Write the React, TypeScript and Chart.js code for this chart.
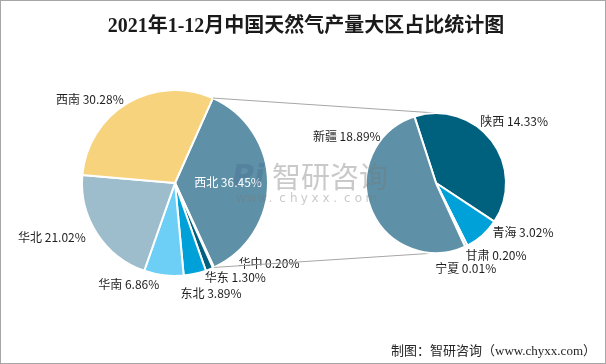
import React, { useEffect, useRef } from "react";
import { Chart, registerables } from "chart.js";

Chart.register(...registerables);

const TITLE = "2021年1-12月中国天然气产量大区占比统计图";
const SOURCE = "制图：智研咨询（www.chyxx.com）";

// primary pie (大区)
const mainCategories = ["西北", "华中", "华东", "东北", "华南", "华北", "西南"];
const mainValues = [36.45, 0.2, 1.3, 3.89, 6.86, 21.02, 30.28];
const mainColors = ["#5E91A7", "#1B5873", "#00607F", "#00A0D8", "#6DCFF6", "#9DBDCC", "#F6D37C"];

// secondary pie (西北 breakdown)
const subCategories = ["陕西", "青海", "甘肃", "宁夏", "新疆"];
const subValues = [14.33, 3.02, 0.2, 0.01, 18.89];
const subColors = ["#00617F", "#00A0D8", "#2F7FA3", "#1B5873", "#5E91A7"];

// label nudges (styling), relative to the computed outside anchor
const mainNudge: [number, number][] = [[0, 0], [20, -15], [-9, -3], [-17, 8], [-3, -3], [-1, -3], [2, 7]];
const subNudge: [number, number][] = [[-21, -12], [2, -12], [-6, -1], [-35, 11], [21, -76]];

const LABEL_FONT = "12px 'Noto Sans CJK SC', 'Noto Sans', sans-serif";
const W = 606;
const H = 364;

function fmt(v: number) {
  return v.toFixed(2) + "%";
}

function drawLabels(chart: any, cats: string[], vals: number[], nudges: [number, number][], insideIndex: number) {
  const ctx = chart.ctx;
  const meta = chart.getDatasetMeta(0);
  ctx.save();
  ctx.font = LABEL_FONT;
  ctx.textBaseline = "middle";
  meta.data.forEach((arc: any, i: number) => {
    const { x, y, startAngle, endAngle, outerRadius } = arc.getProps(["x", "y", "startAngle", "endAngle", "outerRadius"], true);
    const mid = (startAngle + endAngle) / 2;
    const text = cats[i] + " " + fmt(vals[i]);
    if (i === insideIndex) {
      ctx.fillStyle = "#FFFFFF";
      ctx.textAlign = "center";
      ctx.fillText(text, x + Math.cos(mid) * outerRadius * 0.57, y + Math.sin(mid) * outerRadius * 0.57);
      return;
    }
    const r = outerRadius + 12;
    const dx = Math.cos(mid);
    const ax = x + dx * r + nudges[i][0];
    const ay = y + Math.sin(mid) * r + nudges[i][1];
    ctx.fillStyle = "#1F1F1F";
    ctx.textAlign = dx < 0 ? "right" : "left";
    ctx.fillText(text, ax, ay);
  });
  ctx.restore();
}

export default function App() {
  const ref1 = useRef<HTMLCanvasElement>(null);
  const ref2 = useRef<HTMLCanvasElement>(null);

  useEffect(() => {
    if (!ref1.current || !ref2.current) return;

    const mainPlugin = {
      id: "mainDecor",
      afterDraw(chart: any) {
        const ctx = chart.ctx;
        drawLabels(chart, mainCategories, mainValues, mainNudge, 0);
        ctx.save();
        ctx.fillStyle = "#1A1A1A";
        ctx.textAlign = "center";
        ctx.textBaseline = "middle";
        ctx.font = "bold 20px 'Liberation Serif', 'Noto Sans CJK SC', serif";
        ctx.fillText(TITLE, W / 2 + 3, 27);
        ctx.font = "13px 'Liberation Serif', 'Noto Sans CJK SC', serif";
        ctx.textAlign = "right";
        ctx.fillStyle = "#262626";
        ctx.fillText(SOURCE, 596, 352);
        ctx.strokeStyle = "#A6A6A6";
        ctx.lineWidth = 1;
        ctx.strokeRect(0.5, 0.5, W - 1, H - 1);
        ctx.restore();
      },
    };

    const chart1 = new Chart(ref1.current, {
      type: "pie",
      data: {
        labels: mainCategories,
        datasets: [
          {
            data: mainValues,
            backgroundColor: mainColors,
            borderColor: "#FFFFFF",
            borderWidth: 2,
            hoverOffset: 0,
            offset: 0,
            radius: 93,
          } as any,
        ],
      },
      options: {
        responsive: false,
        animation: false,
        events: [],
        rotation: 24,
        layout: { padding: { left: 75, right: W - 175 - 100, top: 83, bottom: H - 183 - 100 } },
        plugins: { legend: { display: false }, tooltip: { enabled: false }, title: { display: false } },
      },
      plugins: [mainPlugin],
    });

    const subPlugin = {
      id: "subDecor",
      beforeDatasetsDraw(chart: any) {
        const ctx = chart.ctx;
        const a = chart1.getDatasetMeta(0).data[0] as any;
        const p = a.getProps(["x", "y", "startAngle", "endAngle", "outerRadius"], true);
        const b = chart.getDatasetMeta(0).data[0] as any;
        const q = b.getProps(["x", "y", "outerRadius"], true);
        ctx.save();
        ctx.strokeStyle = "#A6A6A6";
        ctx.lineWidth = 1;
        ctx.beginPath();
        ctx.moveTo(p.x + Math.cos(p.startAngle) * p.outerRadius, p.y + Math.sin(p.startAngle) * p.outerRadius);
        ctx.lineTo(q.x, q.y - q.outerRadius);
        ctx.moveTo(p.x + Math.cos(p.endAngle) * p.outerRadius, p.y + Math.sin(p.endAngle) * p.outerRadius);
        ctx.lineTo(q.x, q.y + q.outerRadius);
        ctx.stroke();
        ctx.restore();
      },
      afterDraw(chart: any) {
        drawLabels(chart, subCategories, subValues, subNudge, -1);
        const ctx = chart.ctx;
        ctx.save();
        // watermark
        ctx.textBaseline = "middle";
        ctx.textAlign = "left";
        ctx.fillStyle = "rgba(60,95,140,0.28)";
        ctx.font = "bold italic 30px 'DejaVu Sans', sans-serif";
        ctx.fillText("Pi", 232, 178);
        ctx.fillStyle = "rgba(120,120,120,0.40)";
        ctx.font = "29px 'Noto Sans CJK SC', sans-serif";
        ctx.fillText("智研咨询", 272, 177);
        ctx.font = "12px 'DejaVu Sans', sans-serif";
        const s = "www.chyxx.com";
        let x = 236;
        for (const ch of s) {
          ctx.fillText(ch, x, 199);
          x += 10.8;
        }
        ctx.restore();
      },
    };

    const chart2 = new Chart(ref2.current, {
      type: "pie",
      data: {
        labels: subCategories,
        datasets: [
          {
            data: subValues,
            backgroundColor: subColors,
            borderColor: "#FFFFFF",
            borderWidth: 2,
            hoverOffset: 0,
            offset: 0,
            radius: 70,
          } as any,
        ],
      },
      options: {
        responsive: false,
        animation: false,
        events: [],
        rotation: -18,
        layout: { padding: { left: 436 - 80, right: W - 436 - 80, top: 183 - 80, bottom: H - 183 - 80 } },
        plugins: { legend: { display: false }, tooltip: { enabled: false }, title: { display: false } },
      },
      plugins: [subPlugin],
    });

    return () => {
      chart2.destroy();
      chart1.destroy();
    };
  }, []);

  return (
    <div style={{ position: "fixed", left: 0, top: 0, width: W, height: H, background: "#FFFFFF" }}>
      <canvas ref={ref1} width={W} height={H} style={{ position: "absolute", left: 0, top: 0 }} />
      <canvas ref={ref2} width={W} height={H} style={{ position: "absolute", left: 0, top: 0 }} />
    </div>
  );
}
